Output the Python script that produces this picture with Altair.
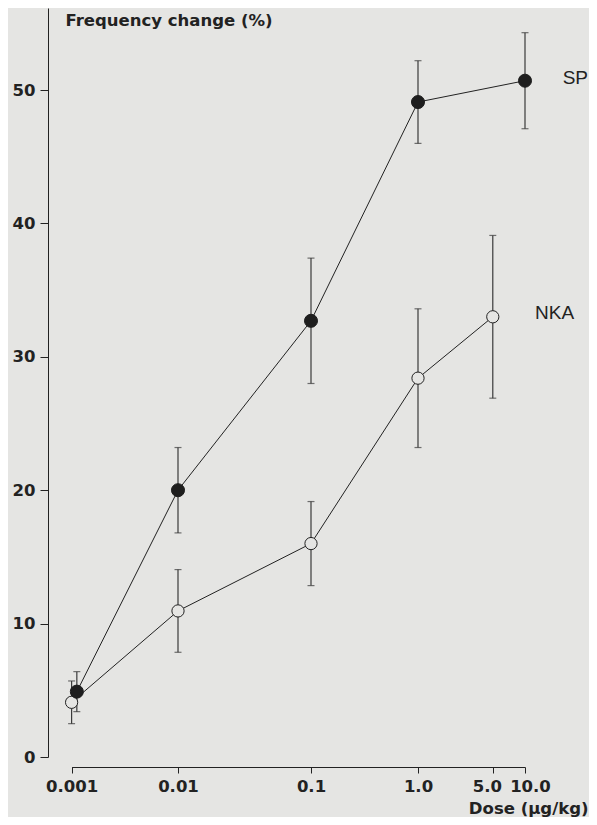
import altair as alt
import pandas as pd

# --- data ---
sp_dose = [0.00112, 0.01, 0.1, 1.0, 10.0]
sp_mean = [4.9, 20.0, 32.7, 49.1, 50.7]
sp_err = [1.5, 3.2, 4.7, 3.1, 3.6]

nka_dose = [0.001, 0.01, 0.1, 1.0, 5.0]
nka_mean = [4.1, 10.95, 16.0, 28.4, 33.0]
nka_err = [1.6, 3.1, 3.15, 5.2, 6.1]

x_ticks = [0.001, 0.01, 0.1, 1.0, 5.0, 10.0]
y_ticks = [0, 10, 20, 30, 40, 50]

label_text = ["SP", "NKA"]
label_dose = [22.5, 12.4]
label_val = [50.9, 33.3]

BG = "#e5e5e3"
INK = "#222222"
FONT = "DejaVu Sans"
LFONT = "Liberation Sans"

rows = []
for s, d, m, e in [("SP", sp_dose, sp_mean, sp_err), ("NKA", nka_dose, nka_mean, nka_err)]:
    for i in range(len(d)):
        rows.append({"series": s, "dose": d[i], "mean": m[i], "lo": m[i] - e[i], "hi": m[i] + e[i], "order": i})
df = pd.DataFrame(rows)
labels = pd.DataFrame({"text": label_text, "dose": label_dose, "val": label_val})

xscale = alt.Scale(type="log", domain=[0.001, 0.01, 0.1, 1.0, 10.0],
                   range=[23.6, 130, 263, 370, 477], nice=False, zero=False)
yscale = alt.Scale(domain=[0, 56.15], nice=False, zero=False)

xaxis = alt.Axis(values=x_ticks, title="Dose (µg/kg)", grid=False, offset=10,
                 labelExpr="datum.value >= 1 ? format(datum.value, '.1f') : toString(datum.value)",
                 labelOffset={"expr": "datum.value == 5 ? -6 : (datum.value == 10 ? 5 : 0)"},
                 labelFont=FONT, labelFontSize=16.5, labelFontWeight="bold", labelColor=INK,
                 labelPadding=5, tickSize=6, tickColor=INK, domainColor=INK,
                 titleFont=FONT, titleFontSize=16.5, titleFontWeight="bold", titleColor=INK,
                 titleAnchor="end", titleAlign="right", titleX=540, titleY=46,
                 titleBaseline="alphabetic", labelFlush=False, labelOverlap=False)
yaxis = alt.Axis(values=y_ticks, title="Frequency change (%)", grid=False,
                 labelFont=FONT, labelFontSize=16.5, labelFontWeight="bold", labelColor=INK,
                 labelPadding=5, tickSize=8, tickColor=INK, domainColor=INK,
                 titleFont=FONT, titleFontSize=16.5, titleFontWeight="bold", titleColor=INK,
                 titleAngle=0, titleAlign="left", titleBaseline="middle", titleX=17, titleY=12)

base = alt.Chart(df)

lines = base.mark_line(color=INK, strokeWidth=1).encode(
    x=alt.X("dose:Q", scale=xscale, axis=xaxis),
    y=alt.Y("mean:Q", scale=yscale, axis=yaxis),
    detail="series:N",
    order="order:Q",
)
bars = base.mark_rule(color="#3a3a3a", strokeWidth=1.2).encode(
    x=alt.X("dose:Q", scale=xscale), y=alt.Y("lo:Q", scale=yscale), y2="hi:Q")
cap_lo = base.mark_tick(color="#3a3a3a", orient="horizontal", size=7, thickness=1.2).encode(
    x=alt.X("dose:Q", scale=xscale), y=alt.Y("lo:Q", scale=yscale))
cap_hi = base.mark_tick(color="#3a3a3a", orient="horizontal", size=7, thickness=1.2).encode(
    x=alt.X("dose:Q", scale=xscale), y=alt.Y("hi:Q", scale=yscale))

nka_pts = alt.Chart(df[df.series == "NKA"]).mark_point(
    shape="circle", filled=True, fill=BG, stroke=INK, strokeWidth=1, size=150, opacity=1).encode(
    x=alt.X("dose:Q", scale=xscale), y=alt.Y("mean:Q", scale=yscale))
sp_pts = alt.Chart(df[df.series == "SP"]).mark_point(
    shape="circle", filled=True, fill="#1e1e1e", stroke="#1e1e1e", strokeWidth=1, size=170, opacity=1).encode(
    x=alt.X("dose:Q", scale=xscale), y=alt.Y("mean:Q", scale=yscale))

texts = alt.Chart(labels).mark_text(font=LFONT, fontSize=19, color=INK, align="left", baseline="middle").encode(
    x=alt.X("dose:Q", scale=xscale), y=alt.Y("val:Q", scale=yscale), text="text:N")

chart = alt.layer(lines, bars, cap_lo, cap_hi, nka_pts, sp_pts, texts).properties(
    width=541, height=749,
    autosize=alt.AutoSizeParams(type="none"),
    padding={"left": 40, "top": 0, "right": 0, "bottom": 60},
    background=BG,
).configure_view(stroke=None)

chart.save("out.html", embed_options={"renderer": "svg", "actions": False})
